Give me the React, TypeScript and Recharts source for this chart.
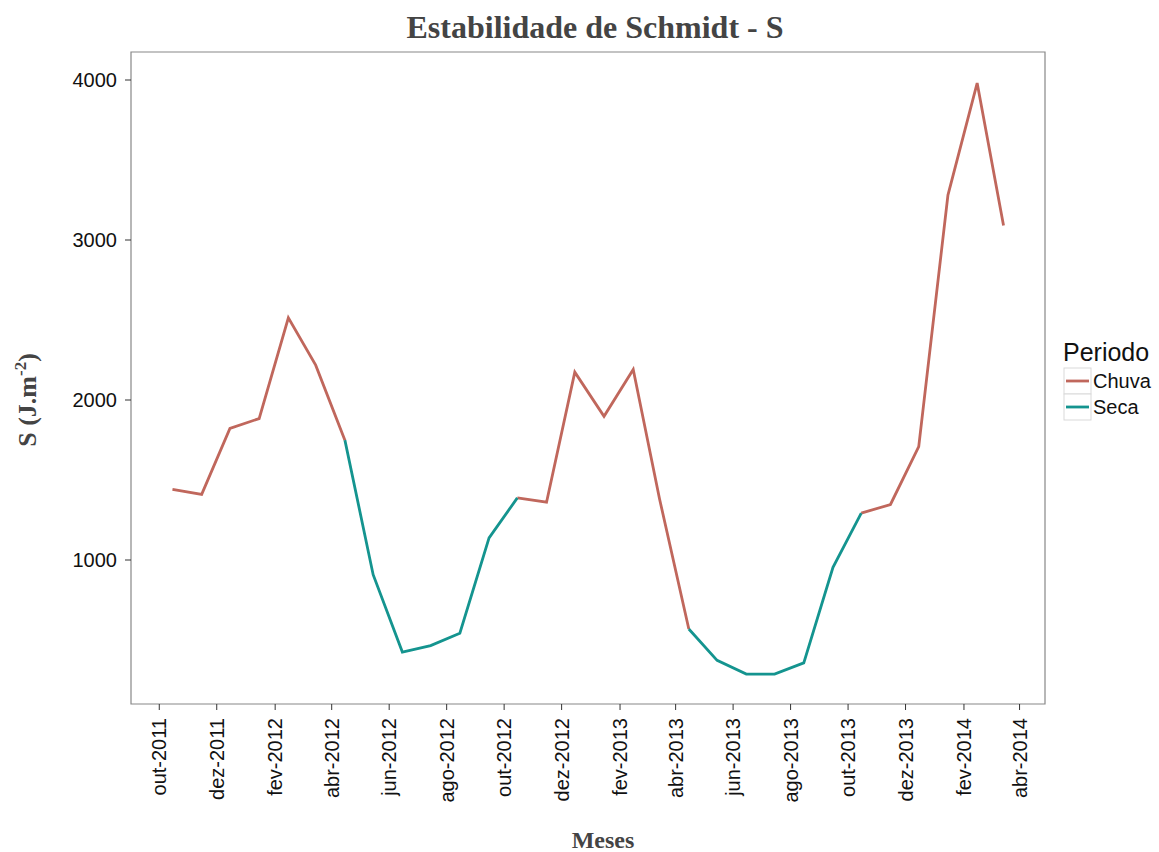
import React from 'react';
import { LineChart, Line, XAxis, YAxis, ReferenceArea } from 'recharts';

// monthly samples (mid-month)
const months = [
  '2011-10', '2011-11', '2011-12', '2012-01', '2012-02', '2012-03',
  '2012-04', '2012-05', '2012-06', '2012-07', '2012-08', '2012-09',
  '2012-10', '2012-11', '2012-12', '2013-01', '2013-02', '2013-03',
  '2013-04', '2013-05', '2013-06', '2013-07', '2013-08', '2013-09',
  '2013-10', '2013-11', '2013-12', '2014-01', '2014-02', '2014-03',
];
const schmidt = [
  1442, 1410, 1822, 1884, 2514, 2218,
  1749, 908, 425, 465, 542, 1138,
  1388, 1361, 2174, 1898, 2191, 1380,
  569, 373, 287, 287, 357, 954,
  1293, 1347, 1708, 3281, 3981, 3091,
];
const periodo = [
  'Chuva', 'Chuva', 'Chuva', 'Chuva', 'Chuva', 'Chuva',
  'Seca', 'Seca', 'Seca', 'Seca', 'Seca', 'Seca',
  'Chuva', 'Chuva', 'Chuva', 'Chuva', 'Chuva', 'Chuva',
  'Seca', 'Seca', 'Seca', 'Seca', 'Seca', 'Seca',
  'Chuva', 'Chuva', 'Chuva', 'Chuva', 'Chuva', 'Chuva',
];

const tickMonths = [
  '2011-10', '2011-12', '2012-02', '2012-04', '2012-06', '2012-08', '2012-10', '2012-12',
  '2013-02', '2013-04', '2013-06', '2013-08', '2013-10', '2013-12', '2014-02', '2014-04',
];
const ptMonths = ['jan', 'fev', 'mar', 'abr', 'mai', 'jun', 'jul', 'ago', 'set', 'out', 'nov', 'dez'];
const yTicks = [1000, 2000, 3000, 4000];

const COLORS: Record<string, string> = { Chuva: '#c0675c', Seca: '#14948f' };
const SANS = '"Liberation Sans", Arial, sans-serif';
const SERIF = '"Liberation Serif", "Times New Roman", serif';

const toTime = (ym: string, day: number) => {
  const [y, m] = ym.split('-').map(Number);
  return Date.UTC(y, m - 1, day);
};

// each segment takes the colour of its starting point (ggplot geom_line, group = 1)
const rows = months.map((m, i) => {
  const isPer = (p: string) => periodo[i] === p || (i > 0 && periodo[i - 1] === p);
  return {
    t: toTime(m, 15),
    chuva: isPer('Chuva') ? schmidt[i] : null,
    seca: isPer('Seca') ? schmidt[i] : null,
  };
});

const xTicks = tickMonths.map((m) => toTime(m, 1));
const xDomain = [Date.UTC(2011, 8, 1), Date.UTC(2014, 3, 28)];
const yDomain = [100, 4175];

const fmtMonth = (t: number) => {
  const d = new Date(t);
  return `${ptMonths[d.getUTCMonth()]}-${d.getUTCFullYear()}`;
};

const XTick = (props: any) => {
  const { x, y, payload } = props;
  return (
    <text
      x={x}
      y={y}
      transform={`rotate(-90, ${x}, ${y})`}
      textAnchor="end"
      dominantBaseline="central"
      fontSize={20}
      fontFamily={SANS}
      fill="#111"
    >
      {fmtMonth(payload.value)}
    </text>
  );
};

const YLabel = () => (
  <text
    x={36}
    y={400}
    transform="rotate(-90, 36, 400)"
    textAnchor="middle"
    fontSize={26}
    fontWeight="bold"
    fontFamily={SERIF}
    fill="#444"
  >
    S (J.m
    <tspan dy={-10} fontSize={17}>-2</tspan>
    <tspan dy={10}>)</tspan>
  </text>
);

const XLabel = () => (
  <text x={603} y={848} textAnchor="middle" fontSize={24} fontWeight="bold" fontFamily={SERIF} fill="#444">
    Meses
  </text>
);

const Legend = () => (
  <svg width={110} height={100} style={{ position: 'absolute', left: 1055, top: 330 }}>
    <text x={8} y={31} fontSize={25} fontFamily={SANS} fill="#111">Periodo</text>
    {['Chuva', 'Seca'].map((p, i) => (
      <g key={p}>
        <rect x={9} y={38 + i * 26} width={27} height={26} fill="#fff" stroke="#d9d9d9" />
        <line x1={11} x2={34} y1={51 + i * 26} y2={51 + i * 26} stroke={COLORS[p]} strokeWidth={2.8} />
        <text x={38} y={58 + i * 26} fontSize={20} fontFamily={SANS} fill="#111">{p}</text>
      </g>
    ))}
  </svg>
);

export default function App() {
  return (
    <div style={{ position: 'absolute', left: 0, top: 0, width: 1159, height: 852, background: '#fff' }}>
      <svg width={1159} height={48} style={{ position: 'absolute', left: 0, top: 0 }}>
        <text x={595} y={38} textAnchor="middle" fontSize={32} fontWeight="bold" fontFamily={SERIF} fill="#444">
          Estabilidade de Schmidt - S
        </text>
      </svg>
      <LineChart width={1159} height={852} data={rows} margin={{ top: 52, right: 114, bottom: 0, left: 0 }}>
        <XAxis
          dataKey="t"
          type="number"
          domain={xDomain}
          ticks={xTicks}
          height={148}
          tickSize={6}
          tickMargin={8}
          axisLine={false}
          tickLine={{ stroke: '#333' }}
          tick={<XTick />}
          interval={0}
          label={<XLabel />}
        />
        <YAxis
          type="number"
          domain={yDomain}
          ticks={yTicks}
          width={131}
          tickSize={6}
          tickMargin={8}
          axisLine={false}
          tickLine={{ stroke: '#333' }}
          tick={{ fontSize: 20, fontFamily: SANS, fill: '#111' }}
          label={<YLabel />}
        />
        <ReferenceArea
          x1={xDomain[0]}
          x2={xDomain[1]}
          y1={yDomain[0]}
          y2={yDomain[1]}
          fill="none"
          stroke="#888"
          strokeWidth={1.2}
          ifOverflow="visible"
        />
        <Line dataKey="chuva" stroke={COLORS.Chuva} strokeWidth={2.8} dot={false} connectNulls={false} isAnimationActive={false} />
        <Line dataKey="seca" stroke={COLORS.Seca} strokeWidth={2.8} dot={false} connectNulls={false} isAnimationActive={false} />
      </LineChart>
      <Legend />
    </div>
  );
}
